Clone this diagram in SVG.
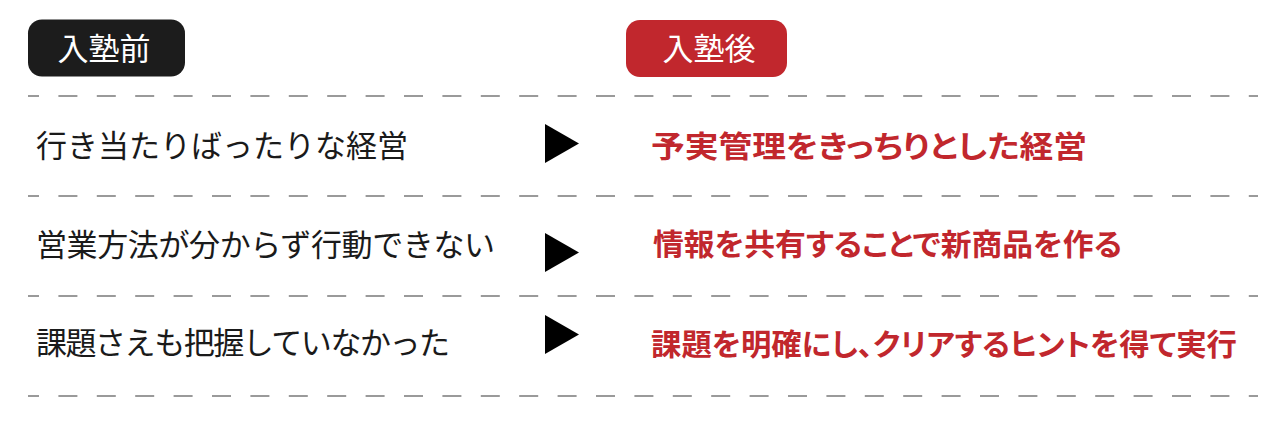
<svg xmlns="http://www.w3.org/2000/svg" width="1280" height="421" viewBox="0 0 1280 421">
<style>
.sep{stroke:#9a9a9a;stroke-width:2;stroke-dasharray:19 19.4;stroke-dashoffset:8;fill:none}
.badge-t{font-family:"Noto Sans CJK JP","Noto Sans",sans-serif;font-size:31px;fill:#fff;text-anchor:middle}
.lt{font-family:"Noto Sans CJK JP","Noto Sans",sans-serif;font-size:31px;fill:#1a1a1a}
.rt{font-family:"Noto Sans CJK JP","Noto Sans",sans-serif;font-size:30px;font-weight:700;fill:#c1272d;font-feature-settings:"palt"}
.arr{fill:#000}
</style>
<rect width="1280" height="421" fill="#fff"/>
<g id="separators">
<line class="sep" x1="28" y1="96" x2="1258" y2="96"/>
<line class="sep" x1="28" y1="196" x2="1258" y2="196"/>
<line class="sep" x1="28" y1="296" x2="1258" y2="296"/>
<line class="sep" x1="28" y1="396" x2="1258" y2="396"/>
</g>
<g id="badge-before">
<rect x="28" y="19.5" width="157" height="57" rx="14" fill="#1c1c1c"/>
<text class="badge-t" x="104" y="60">入塾前</text>
</g>
<g id="badge-after">
<rect x="626" y="20" width="161" height="57" rx="14" fill="#c1272d"/>
<text class="badge-t" x="709" y="60">入塾後</text>
</g>
<g id="row1-before"><text class="lt" x="36" y="157" textLength="372" lengthAdjust="spacing">行き当たりばったりな経営</text></g>
<g id="row2-before"><text class="lt" x="36" y="256" textLength="459" lengthAdjust="spacing">営業方法が分からず行動できない</text></g>
<g id="row3-before"><text class="lt" x="36" y="354" textLength="414" lengthAdjust="spacing">課題さえも把握していなかった</text></g>
<g id="row1-after"><text class="rt" x="651" y="157" textLength="436" lengthAdjust="spacingAndGlyphs">予実管理をきっちりとした経営</text></g>
<g id="row2-after"><text class="rt" x="653" y="255" textLength="469" lengthAdjust="spacingAndGlyphs">情報を共有することで新商品を作る</text></g>
<g id="row3-after"><text class="rt" x="651" y="355" textLength="586" lengthAdjust="spacingAndGlyphs">課題を明確にし、クリアするヒントを得て実行</text></g>
<g id="connectors">
<polygon class="arr" points="545,124 545,163 579,143.5"/>
<polygon class="arr" points="545,233 545,272 579,252.5"/>
<polygon class="arr" points="545,315 545,354 579,334.5"/>
</g>
</svg>
